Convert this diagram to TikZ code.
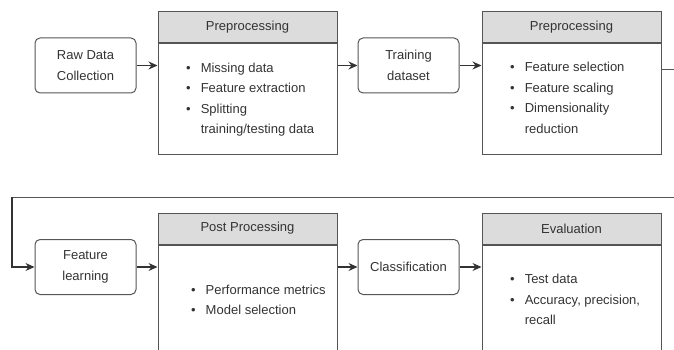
\documentclass[tikz,border=0pt]{standalone}
\usepackage{fontspec}
\setmainfont{Liberation Sans}
\usetikzlibrary{arrows.meta, positioning, calc}
\definecolor{edge}{HTML}{555555}
\definecolor{ink}  {HTML}{333333}
\definecolor{head} {HTML}{DCDCDC}
\newcommand{\bulletlist}[1]{\begin{tabular}{@{}l@{\hspace{10pt}}l@{}}#1\end{tabular}}

\begin{document}
\begin{tikzpicture}[x=1pt, y=-1pt, font=\fontsize{13}{20.5}\selectfont, text=ink,
    stage/.style={draw=edge, line width=1pt, rounded corners=5pt, minimum width=101pt, minimum height=55pt, align=center},
    panel/.style={draw=edge, line width=1pt, minimum width=179pt, minimum height=142pt},
    panelhead/.style={draw=edge, fill=head, line width=1pt, minimum width=179pt, minimum height=31pt, anchor=north},
    items/.style={anchor=west, inner sep=0pt},
    flow/.style={-{Stealth[length=9pt,width=8pt]}, line width=1.1pt, ink}]
  \useasboundingbox (0,0) rectangle (674,350);
  \clip (0,0) rectangle (674,350);

  % top row
  \node[stage] (raw) at (85.5,65.5) {Raw Data\\Collection};
  \node[panel] (pre1) at (247.5,83) {};
  \node[panelhead] (pre1h) at (pre1.north) {Preprocessing};
  \node[items] (pre1l) at (186,99)
    {\bulletlist{\textbullet & Missing data\\ \textbullet & Feature extraction\\ \textbullet & Splitting\\ & training/testing data}};
  \node[stage] (train) at (408.5,65.5) {Training\\dataset};
  \node[panel] (pre2) at (571.5,83) {};
  \node[panelhead] (pre2h) at (pre2.north) {Preprocessing};
  \node[items] (pre2l) at (510,98.5)
    {\bulletlist{\textbullet & Feature selection\\ \textbullet & Feature scaling\\ \textbullet & Dimensionality\\ & reduction}};

  % bottom row
  \node[stage] (feat) at (85.5,267) {Feature\\learning};
  \node[panel] (post) at (247.5,284) {};
  \node[panelhead] (posth) at (post.north) {Post Processing};
  \node[items] (postl) at (191,300.5)
    {\bulletlist{\textbullet & Performance metrics\\ \textbullet & Model selection}};
  \node[stage] (class) at (408.5,267) {Classification};
  \node[panel] (eval) at (571.5,284) {};
  \node[panelhead] (evalh) at (eval.north) {Evaluation};
  \node[items] (evall) at (510,300)
    {\bulletlist{\textbullet & Test data\\ \textbullet & Accuracy, precision,\\ & recall}};

  \foreach \h in {pre1h, pre2h, posth, evalh}
    \draw[edge, line width=2pt] (\h.south west) -- (\h.south east);

  \coordinate (turnA) at (690,70);
  \coordinate (turnB) at (690,197);
  \coordinate (turnC) at (12,197);

  \draw[flow] (raw.east) -- (raw.east -| pre1.west);
  \draw[flow] (pre1.east |- train) -- (train);
  \draw[flow] (train.east) -- (train.east -| pre2.west);
  \draw[edge, line width=1pt] (pre2.east |- turnA) -- (turnA) -- (turnB) -- (turnC);
  \draw[flow] (turnC) |- (feat.west);
  \draw[flow] (feat.east) -- (feat.east -| post.west);
  \draw[flow] (post.east |- class) -- (class);
  \draw[flow] (class.east) -- (class.east -| eval.west);
\end{tikzpicture}
\end{document}
